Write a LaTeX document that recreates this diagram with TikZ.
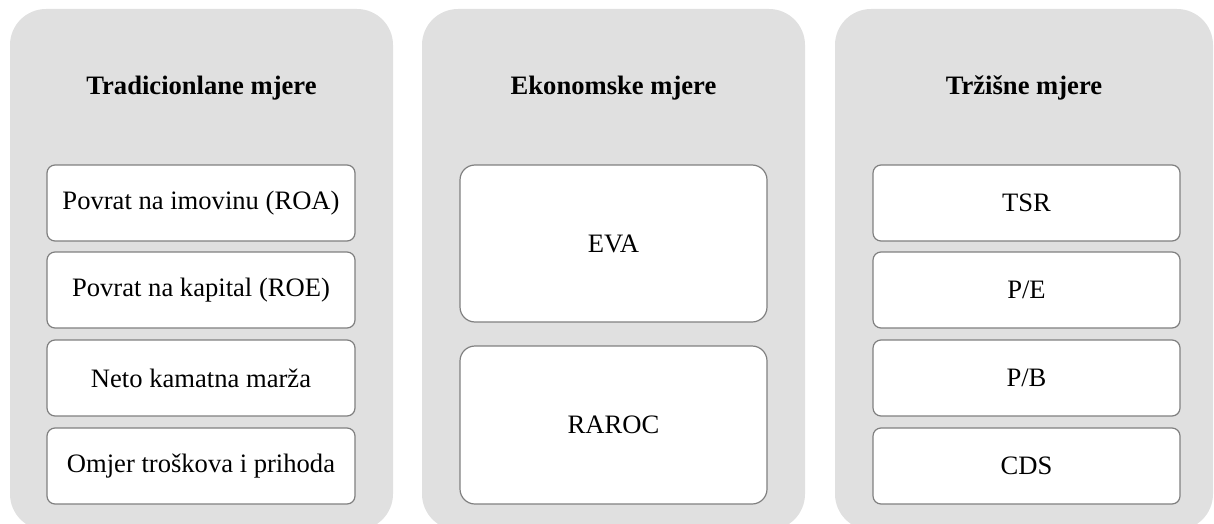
\documentclass[tikz,border=0pt]{standalone}
\usepackage{fontspec}
\setmainfont{Liberation Serif}
\definecolor{panelgrey}{RGB}{224,224,224}
\definecolor{boxgrey}{RGB}{128,128,128}
\begin{document}
\begin{tikzpicture}[x=1pt,y=-1pt,
  panel/.style={fill=panelgrey, draw=none, rounded corners=36pt, inner sep=0pt, minimum height=521pt},
  item/.style={draw=boxgrey, fill=white, line width=1.2pt, rounded corners=8pt, inner sep=0pt,
    minimum width=308pt, minimum height=76pt, font=\fontsize{26.6}{30}\selectfont},
  bigitem/.style={item, rounded corners=15pt},
  title/.style={font=\fontsize{26.6}{30}\selectfont\bfseries, anchor=base, inner sep=0pt}]
\useasboundingbox (0,0) rectangle (1214,524);
% panels
\node[panel, minimum width=383pt] (p1) at (201.5,269.5) {};
\node[panel, minimum width=383pt] (p2) at (613.5,269.5) {};
\node[panel, minimum width=378pt] (p3) at (1024,269.5) {};
% titles
\node[title] (t1) at (201.5,95) {Tradicionlane mjere};
\node[title] (t2) at (613.5,95) {Ekonomske mjere};
\node[title] (t3) at (1024,95) {Tržišne mjere};
% left column
\node[item] (roa) at (201,203) {Povrat na imovinu (ROA)};
\node[item] (roe) at (201,290) {Povrat na kapital (ROE)};
\node[item] (nkm) at (201,378) {Neto kamatna marža};
\node[item] (otp) at (201,466) {Omjer troškova i prihoda};
% middle column
\node[bigitem, minimum height=157pt, minimum width=307pt] (eva) at (613.5,243.5) {EVA};
\node[bigitem, minimum height=158pt, minimum width=307pt] (raroc) at (613.5,425) {RAROC};
% right column
\node[item, minimum width=307pt] (tsr) at (1026.5,203) {TSR};
\node[item, minimum width=307pt] (pe) at (1026.5,290) {P/E};
\node[item, minimum width=307pt] (pb) at (1026.5,378) {P/B};
\node[item, minimum width=307pt] (cds) at (1026.5,466) {CDS};
\end{tikzpicture}
\end{document}
